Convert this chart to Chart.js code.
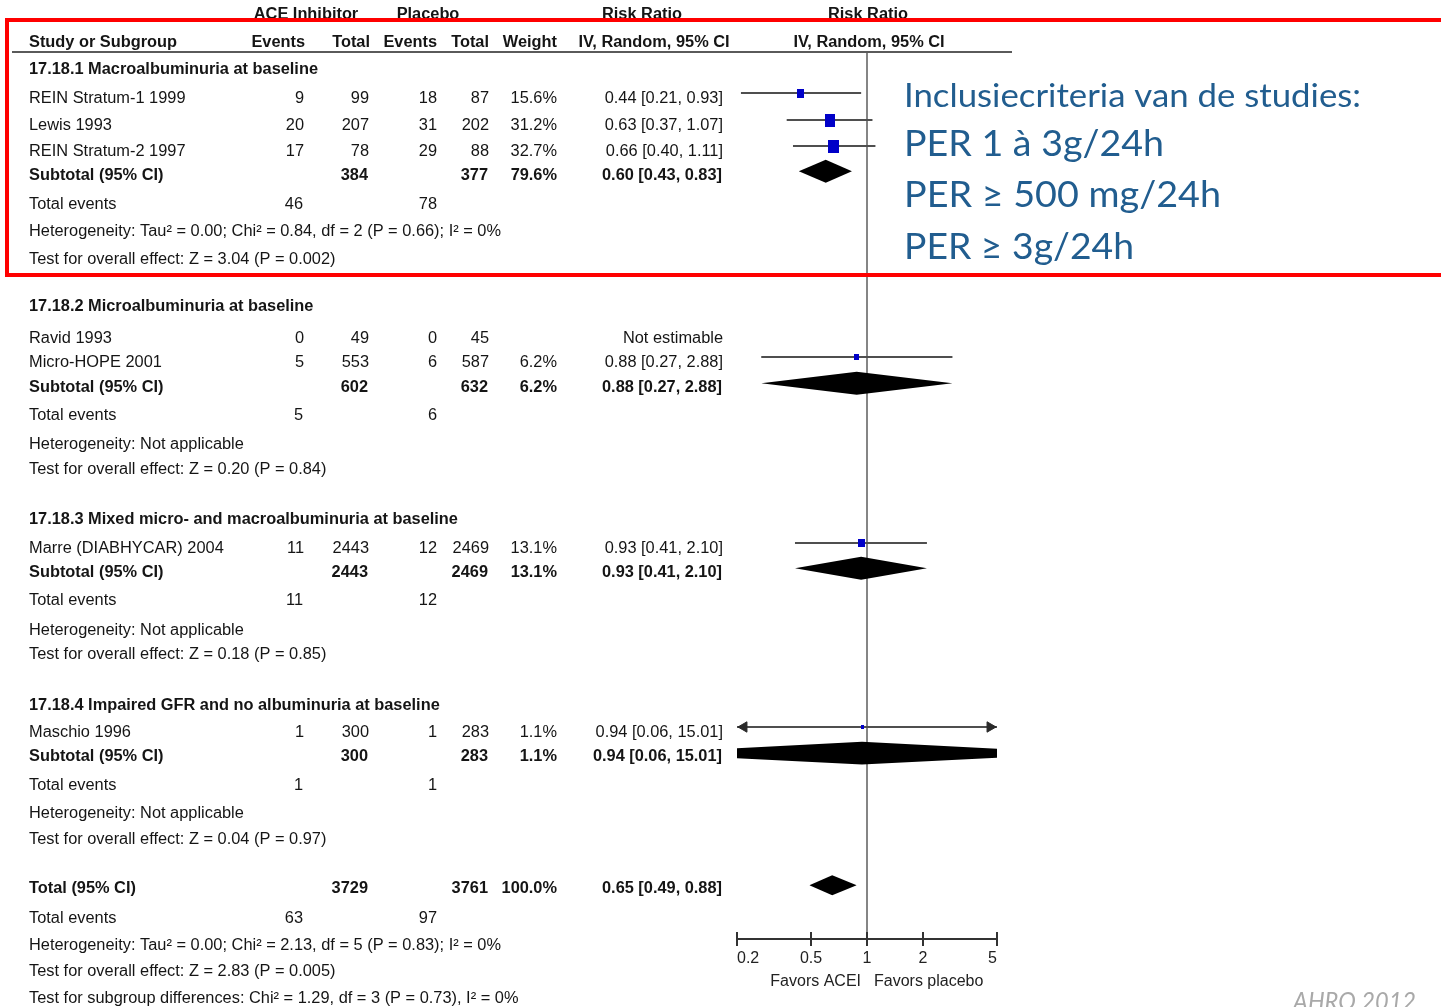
<!DOCTYPE html>
<html>
<head>
<meta charset="utf-8">
<script src="https://cdn.jsdelivr.net/npm/chart.js@4.4.1/dist/chart.umd.min.js"></script>
<style>
html,body{margin:0;padding:0;background:#fff;overflow:hidden}
canvas{display:block}
</style>
</head>
<body>
<canvas id="c" width="1441" height="1007"></canvas>
<script>
// ---------------- DATA ----------------
const groupTitles = [
  '17.18.1 Macroalbuminuria at baseline',
  '17.18.2 Microalbuminuria at baseline',
  '17.18.3 Mixed micro- and macroalbuminuria at baseline',
  '17.18.4 Impaired GFR and no albuminuria at baseline'
];
const studyNames = ['REIN Stratum-1 1999','Lewis 1993','REIN Stratum-2 1997','Ravid 1993','Micro-HOPE 2001','Marre (DIABHYCAR) 2004','Maschio 1996'];
const studyGroup = [0,0,0,1,1,2,3];
const aceEvents  = [9,20,17,0,5,11,1];
const aceTotal   = [99,207,78,49,553,2443,300];
const plaEvents  = [18,31,29,0,6,12,1];
const plaTotal   = [87,202,88,45,587,2469,283];
const studyWeight = [15.6,31.2,32.7,null,6.2,13.1,1.1];
const studyRR    = [0.44,0.63,0.66,null,0.88,0.93,0.94];
const studyLo    = [0.21,0.37,0.40,null,0.27,0.41,0.06];
const studyHi    = [0.93,1.07,1.11,null,2.88,2.10,15.01];

const subAceTotal  = [384,602,2443,300];
const subPlaTotal  = [377,632,2469,283];
const subWeight    = [79.6,6.2,13.1,1.1];
const subRR        = [0.60,0.88,0.93,0.94];
const subLo        = [0.43,0.27,0.41,0.06];
const subHi        = [0.83,2.88,2.10,15.01];
const subAceEvents = [46,5,11,1];
const subPlaEvents = [78,6,12,1];
const subHeterogeneity = [
  'Heterogeneity: Tau² = 0.00; Chi² = 0.84, df = 2 (P = 0.66); I² = 0%',
  'Heterogeneity: Not applicable',
  'Heterogeneity: Not applicable',
  'Heterogeneity: Not applicable'
];
const subOverallTest = [
  'Test for overall effect: Z = 3.04 (P = 0.002)',
  'Test for overall effect: Z = 0.20 (P = 0.84)',
  'Test for overall effect: Z = 0.18 (P = 0.85)',
  'Test for overall effect: Z = 0.04 (P = 0.97)'
];

const totalAceTotal = 3729, totalPlaTotal = 3761, totalWeight = 100.0;
const totalRR = 0.65, totalLo = 0.49, totalHi = 0.88;
const totalAceEvents = 63, totalPlaEvents = 97;
const totalNotes = [
  'Heterogeneity: Tau² = 0.00; Chi² = 2.13, df = 5 (P = 0.83); I² = 0%',
  'Test for overall effect: Z = 2.83 (P = 0.005)',
  'Test for subgroup differences: Chi² = 1.29, df = 3 (P = 0.73), I² = 0%'
];

const xTicks = [0.2, 0.5, 1, 2, 5];
const favorsLabels = ['Favors ACEI', 'Favors placebo'];
const inclusionLines = ['Inclusiecriteria van de studies:', 'PER 1 à 3g/24h', 'PER ≥ 500 mg/24h', 'PER ≥ 3g/24h'];
const sourceNote = 'AHRQ 2012';

// row positions (in table-row units)
const headerRows      = [-1.47, -0.415];
const groupTitleRow   = [0.60, 9.55, 17.55, 24.57];
const studyRow        = [1.70, 2.72, 3.70, 10.72, 11.66, 18.68, 25.62];
const subtotalRow     = [4.57, 12.57, 19.55, 26.53];
const subEventsRow    = [5.70, 13.66, 20.64, 27.62];
const subHetRow       = [6.72, 14.72, 21.74, 28.68];
const subTestRow      = [7.74, 15.70, 22.68, 29.66];
const totalRow        = 31.51;
const totalEventsRow  = 32.64;
const totalNoteRows   = [33.66, 34.64, 35.66];

// ---------------- STYLE ----------------
const MARK_SHIFT_STUDY = 0.15, MARK_SHIFT_POOLED = 0.07;
const SUB_DIAMOND_H = 0.43, TOTAL_DIAMOND_H = 0.38;
const COL = {name:29, aceE:304, aceT:369, plaE:437, plaT:489, weight:557, rr:723};
const TXT = '#151515';
const TEXT_DY = 2;

function fmtRR(r,l,h){ return r.toFixed(2)+' ['+l.toFixed(2)+', '+h.toFixed(2)+']'; }
function fmtW(w){ return w.toFixed(1)+'%'; }

function makeSquare(w){
  const c = document.createElement('canvas');
  const sw = Math.max(3, Math.round(1.85*Math.sqrt(w)));
  const sh = Math.max(4, Math.round(2.25*Math.sqrt(w)));
  c.width = sw; c.height = sh;
  const g = c.getContext('2d');
  g.fillStyle = '#0000c8';
  g.fillRect(0,0,sw,sh);
  return c;
}

// ---------------- DATASETS ----------------
const datasets = [];
const sqData = [], sqStyle = [];
studyRR.forEach((rr,i)=>{
  if (rr == null) return;
  sqData.push({x:rr, y:studyRow[i]-MARK_SHIFT_STUDY});
  sqStyle.push(makeSquare(studyWeight[i]));
});
datasets.push({type:'scatter', data:sqData, pointStyle:sqStyle, pointRadius:4, order:0, clip:0});

const arrowData = [], arrowRot = [];
studyRR.forEach((rr,i)=>{
  if (rr == null) return;
  const y = studyRow[i]-MARK_SHIFT_STUDY;
  datasets.push({type:'line', data:[{x:studyLo[i],y},{x:studyHi[i],y}], borderColor:'#4f4f4f', borderWidth:2,
    pointRadius:0, fill:false, order:2, clip:0});
  if (studyLo[i] < xTicks[0]) { arrowData.push({x:xTicks[0]*1.09, y}); arrowRot.push(-90); }
  if (studyHi[i] > xTicks[xTicks.length-1]) { arrowData.push({x:xTicks[xTicks.length-1]/1.09, y}); arrowRot.push(90); }
});
datasets.push({type:'scatter', data:arrowData, pointStyle:'triangle', rotation:arrowRot, pointRadius:6,
  backgroundColor:'#2a2a2a', borderColor:'#2a2a2a', borderWidth:1, order:1, clip:0});

function addDiamond(est, lo, hi, y, h){
  datasets.push({type:'line', data:[{x:lo,y},{x:est,y:y-h},{x:hi,y}], borderWidth:0, pointRadius:0, fill:false, order:3, clip:0});
  datasets.push({type:'line', data:[{x:lo,y},{x:est,y:y+h},{x:hi,y}], borderWidth:0, pointRadius:0, fill:'-1',
    backgroundColor:'#000', order:3, clip:0});
}
subRR.forEach((r,g)=> addDiamond(r, subLo[g], subHi[g], subtotalRow[g]-MARK_SHIFT_POOLED, SUB_DIAMOND_H));
addDiamond(totalRR, totalLo, totalHi, totalRow-MARK_SHIFT_POOLED, TOTAL_DIAMOND_H);

// ---------------- TEXT PLUGIN ----------------
function drawText(ctx, s, x, y, o){
  o = o || {};
  ctx.save();
  ctx.font = o.font;
  ctx.fillStyle = o.color || TXT;
  ctx.textBaseline = o.baseline || 'middle';
  ctx.textAlign = o.align || 'left';
  ctx.translate(x, y);
  ctx.scale(o.sx || 1, 1);
  ctx.fillText(s, 0, 0);
  ctx.restore();
}
function fit(ctx, s, font, target){ ctx.save(); ctx.font = font; const w = ctx.measureText(s).width; ctx.restore(); return target / w; }

const forestText = {
  id: 'forestText',
  afterDraw(chart){
    const ctx = chart.ctx, ys = chart.scales.y, xs = chart.scales.x, area = chart.chartArea;
    const py = v => ys.getPixelForValue(v) + TEXT_DY;
    const F = '16px "Liberation Sans", Arial, sans-serif';
    const FB = 'bold 16px "Liberation Sans", Arial, sans-serif';
    const sx = fit(ctx, subHeterogeneity[0], F, 472);
    const sxb = fit(ctx, groupTitles[0], FB, 289);
    const R = {font:F, sx};
    const B = {font:FB, sx:sxb};
    const rt = (o)=>Object.assign({align:'right'}, o);
    const ct = (o)=>Object.assign({align:'center'}, o);
    const x1 = xs.getPixelForValue(1);

    ctx.save(); ctx.strokeStyle = '#5a5a5a'; ctx.lineWidth = 2;
    ctx.beginPath(); ctx.moveTo(12, area.top); ctx.lineTo(1012, area.top); ctx.stroke(); ctx.restore();

    let y = py(headerRows[0]);
    drawText(ctx, 'ACE Inhibitor', 306, y, ct(B));
    drawText(ctx, 'Placebo', 428, y, ct(B));
    drawText(ctx, 'Risk Ratio', 642, y, ct(B));
    drawText(ctx, 'Risk Ratio', x1+1, y, ct(B));
    y = py(headerRows[1]);
    drawText(ctx, 'Study or Subgroup', COL.name, y, B);
    drawText(ctx, 'Events', COL.aceE+1, y, rt(B));
    drawText(ctx, 'Total', COL.aceT+1, y, rt(B));
    drawText(ctx, 'Events', COL.plaE, y, rt(B));
    drawText(ctx, 'Total', COL.plaT, y, rt(B));
    drawText(ctx, 'Weight', COL.weight, y, rt(B));
    drawText(ctx, 'IV, Random, 95% CI', 654, y, ct(B));
    drawText(ctx, 'IV, Random, 95% CI', x1+2, y, ct(B));

    groupTitles.forEach((t,g)=>{
      drawText(ctx, t, COL.name, py(groupTitleRow[g]), B);
      studyNames.forEach((n,i)=>{
        if (studyGroup[i] !== g) return;
        const yy = py(studyRow[i]);
        drawText(ctx, n, COL.name, yy, R);
        drawText(ctx, String(aceEvents[i]), COL.aceE, yy, rt(R));
        drawText(ctx, String(aceTotal[i]), COL.aceT, yy, rt(R));
        drawText(ctx, String(plaEvents[i]), COL.plaE, yy, rt(R));
        drawText(ctx, String(plaTotal[i]), COL.plaT, yy, rt(R));
        if (studyRR[i] == null) {
          drawText(ctx, 'Not estimable', COL.rr, yy, rt(R));
        } else {
          drawText(ctx, fmtW(studyWeight[i]), COL.weight, yy, rt(R));
          drawText(ctx, fmtRR(studyRR[i], studyLo[i], studyHi[i]), COL.rr, yy, rt(R));
        }
      });
      const ys2 = py(subtotalRow[g]);
      drawText(ctx, 'Subtotal (95% CI)', COL.name, ys2, B);
      drawText(ctx, String(subAceTotal[g]), COL.aceT-1, ys2, rt(B));
      drawText(ctx, String(subPlaTotal[g]), COL.plaT-1, ys2, rt(B));
      drawText(ctx, fmtW(subWeight[g]), COL.weight, ys2, rt(B));
      drawText(ctx, fmtRR(subRR[g], subLo[g], subHi[g]), COL.rr-1, ys2, rt(B));
      const ye = py(subEventsRow[g]);
      drawText(ctx, 'Total events', COL.name, ye, R);
      drawText(ctx, String(subAceEvents[g]), COL.aceE-1, ye, rt(R));
      drawText(ctx, String(subPlaEvents[g]), COL.plaE, ye, rt(R));
      drawText(ctx, subHeterogeneity[g], COL.name, py(subHetRow[g]), R);
      drawText(ctx, subOverallTest[g], COL.name, py(subTestRow[g]), R);
    });

    const yt = py(totalRow);
    drawText(ctx, 'Total (95% CI)', COL.name, yt, B);
    drawText(ctx, String(totalAceTotal), COL.aceT-1, yt, rt(B));
    drawText(ctx, String(totalPlaTotal), COL.plaT-1, yt, rt(B));
    drawText(ctx, fmtW(totalWeight), COL.weight, yt, rt(B));
    drawText(ctx, fmtRR(totalRR, totalLo, totalHi), COL.rr-1, yt, rt(B));
    const yte = py(totalEventsRow);
    drawText(ctx, 'Total events', COL.name, yte, R);
    drawText(ctx, String(totalAceEvents), COL.aceE-1, yte, rt(R));
    drawText(ctx, String(totalPlaEvents), COL.plaE, yte, rt(R));
    totalNotes.forEach((t,k)=> drawText(ctx, t, COL.name, py(totalNoteRows[k]), R));

    ctx.save(); ctx.strokeStyle = '#333'; ctx.lineWidth = 2;
    xTicks.forEach(v=>{ const px = Math.round(xs.getPixelForValue(v)); ctx.beginPath(); ctx.moveTo(px, area.bottom-7); ctx.lineTo(px, area.bottom); ctx.stroke(); });
    ctx.restore();

    const FA = '16px "Liberation Sans", Arial, sans-serif';
    drawText(ctx, favorsLabels[0], x1-6, area.bottom+43, {font:FA, align:'right', color:'#222'});
    drawText(ctx, favorsLabels[1], x1+7, area.bottom+43, {font:FA, align:'left', color:'#222'});

    const blue = '#215d8f';
    const bf1 = '33px Lato, "Open Sans", sans-serif';
    const bf2 = '36px Lato, "Open Sans", sans-serif';
    const targets = [457, 260, 317, 230];
    const baselines = [107, 156, 207, 259];
    inclusionLines.forEach((s,k)=>{
      const f = k === 0 ? bf1 : bf2;
      drawText(ctx, s, 904, baselines[k], {font:f, color:blue, baseline:'alphabetic', sx: fit(ctx, s, f, targets[k])});
    });

    const wf = 'italic 25px Lato, "Open Sans", sans-serif';
    drawText(ctx, sourceNote, 1416, 1010, {font:wf, color:'#a9a9a9', align:'right', baseline:'alphabetic', sx: fit(ctx, sourceNote, wf, 123)});

    ctx.save(); ctx.strokeStyle = '#ff0000'; ctx.lineWidth = 4;
    ctx.strokeRect(7, 20, 1460, 255);
    ctx.restore();
  }
};

// ---------------- CHART ----------------
new Chart(document.getElementById('c'), {
  type: 'scatter',
  data: { datasets },
  options: {
    responsive: false,
    animation: false,
    devicePixelRatio: 1,
    events: [],
    layout: { padding: { left: 737, right: 444, top: 52, bottom: 23 } },
    plugins: { legend: { display: false }, tooltip: { enabled: false }, filler: { propagate: false } },
    scales: {
      x: {
        type: 'logarithmic', min: xTicks[0], max: xTicks[xTicks.length-1], position: 'bottom',
        afterBuildTicks: s => { s.ticks = xTicks.map(v => ({ value: v })); },
        afterFit: s => { s.height = 45; },
        ticks: { callback: v => String(v), font: { family: '"Liberation Sans", Arial, sans-serif', size: 16 },
                 color: '#222', align: 'inner', padding: 3, maxRotation: 0, autoSkip: false },
        grid: { drawOnChartArea: true, color: c => (c.tick && c.tick.value === 1) ? '#858585' : 'rgba(0,0,0,0)',
                lineWidth: 2, tickLength: 7, tickColor: '#333', tickWidth: 2 },
        border: { display: true, color: '#333', width: 2 }
      },
      y: { type: 'linear', min: 0, max: 33.47, reverse: true, display: false }
    }
  },
  plugins: [forestText]
});
</script>
</body>
</html>
